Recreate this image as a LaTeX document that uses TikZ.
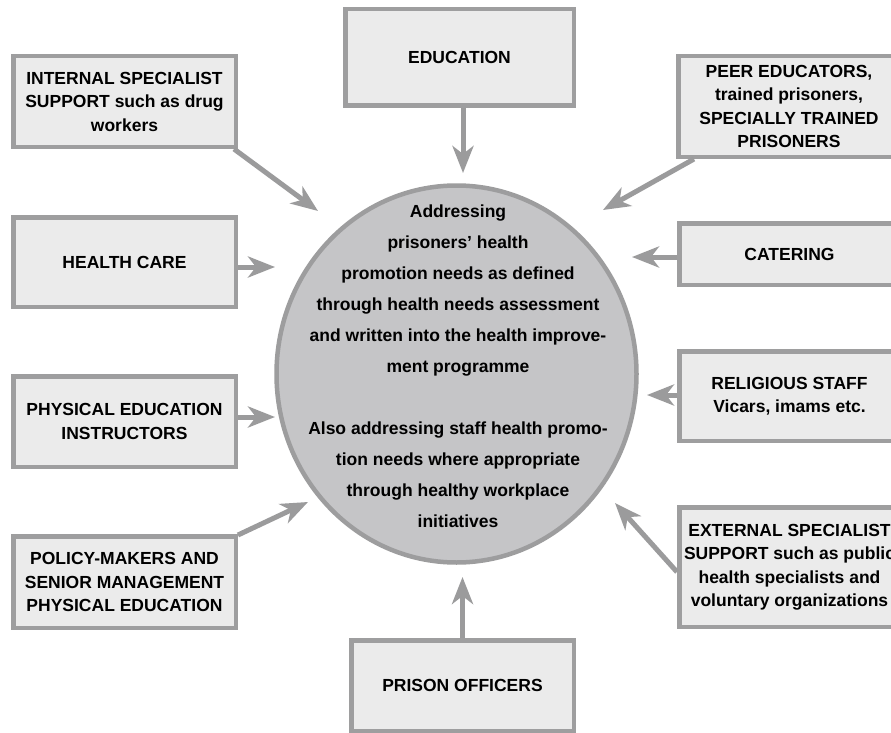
\documentclass[tikz,border=0pt]{standalone}
\usepackage{fontspec}
\setmainfont{Liberation Sans}
\usetikzlibrary{arrows.meta,shapes.geometric}
\definecolor{boxfill}{HTML}{EBEBEB}
\definecolor{boxline}{HTML}{9E9E9F}
\definecolor{circfill}{HTML}{C5C5C7}
\definecolor{circline}{HTML}{9D9D9E}
\definecolor{arrowgray}{HTML}{9B9B9C}
\begin{document}
\begin{tikzpicture}[x=1pt,y=-1pt,
  box/.style={draw=boxline, fill=boxfill, line width=4.5pt, inner sep=0pt, align=center,
    font=\bfseries\fontsize{17.5}{23.5}\selectfont},
  arr/.style={draw=arrowgray, line width=5pt, -{Stealth[length=27pt,width=21pt,inset=8pt]}},
  circ/.style={ellipse, draw=circline, fill=circfill, line width=4.5pt, inner sep=0pt},
  ctxt/.style={align=center, font=\bfseries\fontsize{17.5}{31}\selectfont, inner sep=0pt}]
\useasboundingbox (0,0) rectangle (891,733);
\clip (0,0) rectangle (891,733);
\fill[white] (0,0) rectangle (891,733);

\node[circ, minimum width=360pt, minimum height=377pt] (core) at (456.5,374) {};
\node[ctxt] (ctext) at (458,366) {Addressing\\
prisoners’ health\\
promotion needs as defined\\
through health needs assessment\\
and written into the health improve-\\
ment programme\\[31pt]
Also addressing staff health promo-\\
tion needs where appropriate\\
through healthy workplace\\
initiatives};

\node[box, minimum width=228.5pt, minimum height=96.5pt] (edu) at (459.5,57.5) {EDUCATION};
\node[box, minimum width=222.5pt, minimum height=90.5pt] (internal) at (124.5,101.5) {INTERNAL SPECIALIST\\SUPPORT such as drug\\workers};
\node[box, minimum width=222.5pt, minimum height=89.5pt] (health) at (124.5,262) {HEALTH CARE};
\node[box, minimum width=222.5pt, minimum height=90.5pt] (phys) at (124.5,421.5) {PHYSICAL EDUCATION\\INSTRUCTORS};
\node[box, minimum width=222.5pt, minimum height=91.5pt] (policy) at (124.5,582) {POLICY-MAKERS AND\\SENIOR MANAGEMENT\\PHYSICAL EDUCATION};
\node[box, minimum width=222.5pt, minimum height=90.5pt] (prison) at (462.5,685.5) {PRISON OFFICERS};
\node[box, minimum width=221.5pt, minimum height=100.5pt] (peer) at (789,106.5) {PEER EDUCATORS,\\trained prisoners,\\SPECIALLY TRAINED\\PRISONERS};
\node[box, minimum width=220.5pt, minimum height=61.5pt] (cat) at (789.5,254) {CATERING};
\node[box, minimum width=220.5pt, minimum height=89.5pt] (rel) at (789.5,396) {RELIGIOUS STAFF\\Vicars, imams etc.};
\node[box, minimum width=220.5pt, minimum height=119.5pt] (ext) at (789.5,567) {EXTERNAL SPECIALIST\\SUPPORT such as public\\health specialists and\\voluntary organizations};

\coordinate (t1) at (463,173);
\coordinate (t2) at (318,211);
\coordinate (t3) at (275,267);
\coordinate (t4) at (275,417);
\coordinate (t5) at (308,502);
\coordinate (t6) at (462.5,577);
\coordinate (t7) at (603,210);
\coordinate (t8) at (632,257);
\coordinate (t9) at (647,395);
\coordinate (t10) at (615,503);

\draw[arr] ([xshift=3.5pt]edu.south) -- (t1);
\draw[arr] ([xshift=-4pt]internal.south east) -- (t2);
\draw[arr] ([yshift=-5pt]health.east) -- (t3);
\draw[arr] ([yshift=4.5pt]phys.east) -- (t4);
\draw[arr] ([yshift=-1pt]policy.north east) -- (t5);
\draw[arr] (prison.north) -- (t6);
\draw[arr] ([xshift=18pt]peer.south west) -- (t7);
\draw[arr] ([yshift=-3pt]cat.west) -- (t8);
\draw[arr] ([yshift=1pt]rel.west) -- (t9);
\draw[arr] ([yshift=-5pt]ext.west) -- (t10);
\end{tikzpicture}
\end{document}
